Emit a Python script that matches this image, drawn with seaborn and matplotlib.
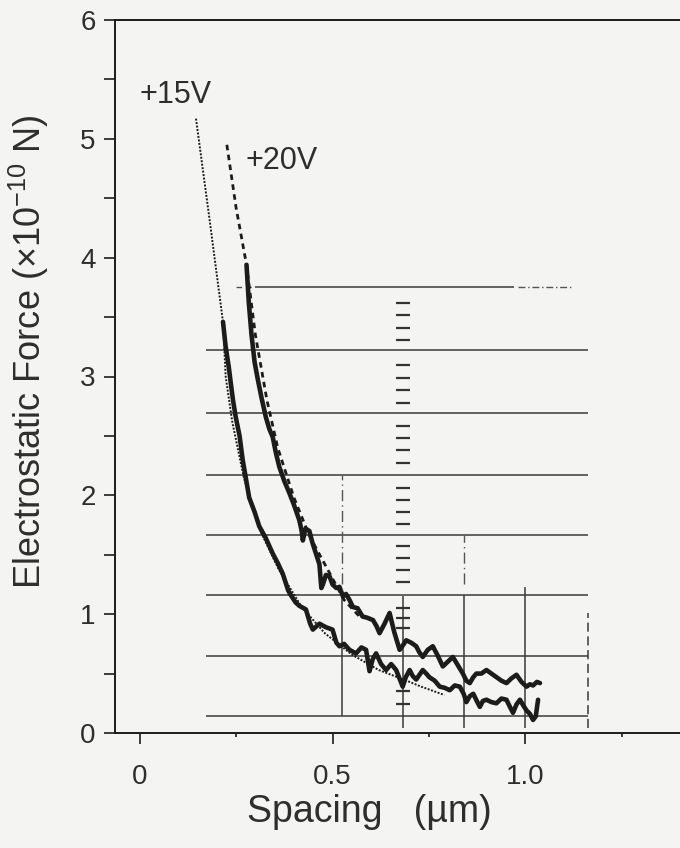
import numpy as np
import pandas as pd
import matplotlib
matplotlib.use("Agg")
import matplotlib.pyplot as plt
import seaborn as sns

# ---------------- data ----------------
x_15v = [0.216, 0.223, 0.231, 0.236, 0.242, 0.249, 0.259, 0.267, 0.275, 0.284,
         0.298, 0.310, 0.327, 0.345, 0.358, 0.371, 0.385, 0.392, 0.404, 0.414,
         0.431, 0.442, 0.449, 0.466, 0.483, 0.500, 0.510, 0.518, 0.530, 0.544,
         0.561, 0.575, 0.587, 0.596, 0.604, 0.613, 0.626, 0.639, 0.652, 0.665,
         0.682, 0.690, 0.700, 0.708, 0.717, 0.734, 0.743, 0.751, 0.765, 0.778,
         0.791, 0.804, 0.817, 0.830, 0.840, 0.847, 0.856, 0.865, 0.874, 0.882,
         0.890, 0.899, 0.912, 0.925, 0.938, 0.951, 0.960, 0.968, 0.977, 0.986,
         0.995, 1.003, 1.012, 1.020, 1.027, 1.033]
y_15v = [3.46, 3.25, 3.08, 2.95, 2.80, 2.66, 2.50, 2.30, 2.15, 1.98,
         1.86, 1.74, 1.64, 1.51, 1.43, 1.34, 1.20, 1.16, 1.10, 1.07,
         1.04, 0.92, 0.87, 0.92, 0.89, 0.87, 0.76, 0.73, 0.75, 0.70,
         0.67, 0.72, 0.70, 0.52, 0.62, 0.67, 0.58, 0.53, 0.58, 0.53,
         0.39, 0.47, 0.53, 0.48, 0.45, 0.53, 0.50, 0.47, 0.44, 0.39,
         0.38, 0.36, 0.40, 0.39, 0.33, 0.26, 0.31, 0.33, 0.27, 0.22,
         0.27, 0.28, 0.26, 0.25, 0.29, 0.28, 0.22, 0.17, 0.24, 0.28,
         0.23, 0.19, 0.16, 0.11, 0.14, 0.28]

x_20v = [0.277, 0.283, 0.290, 0.298, 0.306, 0.316, 0.327, 0.336, 0.345, 0.353,
         0.362, 0.375, 0.388, 0.400, 0.414, 0.420, 0.423, 0.430, 0.440, 0.448,
         0.457, 0.466, 0.471, 0.475, 0.483, 0.492, 0.500, 0.510, 0.518, 0.527,
         0.535, 0.544, 0.553, 0.565, 0.578, 0.590, 0.605, 0.614, 0.622, 0.635,
         0.648, 0.660, 0.674, 0.683, 0.691, 0.704, 0.717, 0.725, 0.734, 0.747,
         0.760, 0.773, 0.786, 0.799, 0.812, 0.825, 0.838, 0.847, 0.856, 0.865,
         0.873, 0.886, 0.899, 0.912, 0.925, 0.938, 0.951, 0.964, 0.977, 0.990,
         1.003, 1.012, 1.020, 1.030, 1.038]
y_20v = [3.94, 3.62, 3.35, 3.12, 2.98, 2.82, 2.66, 2.56, 2.49, 2.36,
         2.24, 2.12, 2.02, 1.92, 1.79, 1.70, 1.62, 1.72, 1.70, 1.60,
         1.51, 1.42, 1.22, 1.25, 1.33, 1.32, 1.25, 1.22, 1.23, 1.15,
         1.17, 1.12, 1.06, 1.05, 0.98, 0.97, 0.95, 0.90, 0.84, 0.92,
         1.01, 0.85, 0.70, 0.74, 0.78, 0.76, 0.73, 0.68, 0.64, 0.70,
         0.73, 0.65, 0.56, 0.60, 0.64, 0.57, 0.50, 0.44, 0.42, 0.47,
         0.50, 0.50, 0.53, 0.50, 0.47, 0.44, 0.42, 0.46, 0.49, 0.43,
         0.39, 0.41, 0.40, 0.43, 0.42]

# theoretical (fit) curves
x_fit15 = [0.146, 0.180, 0.216, 0.223, 0.240, 0.270, 0.310, 0.360, 0.420,
           0.480, 0.550, 0.620, 0.700, 0.730, 0.790]
y_fit15 = [5.17, 4.35, 3.46, 3.00, 2.62, 2.15, 1.72, 1.38, 1.06,
           0.84, 0.66, 0.53, 0.43, 0.39, 0.32]
x_fit20 = [0.226, 0.250, 0.277, 0.300, 0.330, 0.358, 0.400, 0.440, 0.470,
           0.500, 0.530, 0.570]
y_fit20 = [4.95, 4.42, 3.94, 3.35, 2.80, 2.40, 1.98, 1.66, 1.48,
           1.30, 1.12, 0.98]

series_labels = ["+15V", "+20V"]
label_x = [0.092, 0.367]
label_y = [5.37, 4.81]

# background ruling lines seen on the scanned page
rule_y = [3.75, 3.22, 2.69, 2.17, 1.67, 1.16, 0.65, 0.14]
rule_x_start = [0.30, 0.173, 0.173, 0.173, 0.173, 0.173, 0.173, 0.173]
rule_x_end = [0.97, 1.163, 1.163, 1.163, 1.163, 1.163, 1.163, 1.163]
vrule_x = [0.524, 0.683, 0.841, 1.000, 1.163]
vrule_lo = [0.14, 0.04, 0.04, 0.04, 0.04]
vrule_hi = [1.20, 1.15, 1.16, 1.23, 1.01]
vrule_style = ["-", "-", "-", "-", (0, (6, 3))]
dash_col_x = 0.683
dash_col_y = [3.62, 3.52, 3.41, 3.31, 3.10, 2.99, 2.89, 2.78, 2.58, 2.48,
              2.38, 2.27, 2.06, 1.96, 1.86, 1.76, 1.57, 1.47, 1.37, 1.27,
              1.05, 0.97, 0.88, 0.35, 0.24]

x_ticks = [0, 0.5, 1.0]
x_ticklabels = ["0", "0.5", "1.0"]
x_minor = [0.25, 0.75, 1.25]
y_ticks = [0, 1, 2, 3, 4, 5, 6]
y_minor = [0.5, 1.5, 2.5, 3.5, 4.5, 5.5]

# ---------------- styling ----------------
sns.set_theme(style="ticks")
plt.rcParams["font.family"] = ["Liberation Sans", "DejaVu Sans"]
plt.rcParams["mathtext.default"] = "regular"
INK = "#1c1c1c"
TXT = "#2e2e2e"
BG = "#f4f4f2"

fig = plt.figure(figsize=(6.8, 8.48), dpi=100, facecolor=BG)
ax = fig.add_axes([115 / 680, (848 - 733) / 848, (680 - 115) / 680, (733 - 20) / 848])
ax.set_facecolor(BG)

# ruling lines
for yv, xs, xe in zip(rule_y, rule_x_start, rule_x_end):
    ax.hlines(yv, xs, xe, color="#3a3a3a", lw=1.1, zorder=1)
ax.hlines(rule_y[0], 0.25, 0.29, color="#555", lw=1.0, linestyle=(0, (4, 3)), zorder=1)
ax.hlines(rule_y[0], 0.98, 1.12, color="#555", lw=1.0, linestyle=(0, (5, 2, 1, 2)), zorder=1)
for xv, lo, hi, ls in zip(vrule_x, vrule_lo, vrule_hi, vrule_style):
    ax.vlines(xv, lo, hi, color="#3a3a3a", lw=1.1, linestyle=ls, zorder=1)
ax.vlines(vrule_x[0], 1.25, 2.17, color="#555", lw=1.0, linestyle=(0, (8, 3, 1, 3)), zorder=1)
ax.vlines(vrule_x[2], 1.25, 1.67, color="#555", lw=1.0, linestyle=(0, (8, 3, 1, 3)), zorder=1)
ax.plot([dash_col_x] * len(dash_col_y), dash_col_y, linestyle="none", marker="_",
        markersize=10, mew=1.6, color="#333", zorder=1)

# fits
sns.lineplot(x=x_fit15, y=y_fit15, ax=ax, sort=False, estimator=None, color=INK,
             lw=1.4, linestyle=(0, (1, 0.8)), zorder=2)
sns.lineplot(x=x_fit20, y=y_fit20, ax=ax, sort=False, estimator=None, color=INK,
             lw=2.0, linestyle=(0, (2, 1.6)), zorder=2)

# measured curves
df = pd.concat([
    pd.DataFrame({"Spacing": x_15v, "Force": y_15v, "Bias": series_labels[0]}),
    pd.DataFrame({"Spacing": x_20v, "Force": y_20v, "Bias": series_labels[1]}),
])
sns.lineplot(data=df, x="Spacing", y="Force", hue="Bias", units="Bias",
             palette=[INK, INK], sort=False, estimator=None, lw=3.3,
             legend=False, ax=ax, zorder=3)

for t, tx, ty in zip(series_labels, label_x, label_y):
    ax.text(tx, ty, t, fontsize=22, color=TXT, ha="center", va="center")

# axes
ax.set_xlim(-0.064, 1.401)
ax.set_ylim(0, 6)
ax.set_xticks(x_ticks)
ax.set_xticklabels(x_ticklabels)
ax.set_xticks(x_minor, minor=True)
ax.set_yticks(y_ticks)
ax.set_yticks(y_minor, minor=True)
ax.tick_params(axis="both", which="major", direction="out", length=8, width=1.2,
               color=INK, labelsize=20, labelcolor=TXT)
ax.tick_params(axis="y", which="major", pad=6)
ax.tick_params(axis="x", which="major", pad=14)
ax.tick_params(axis="y", which="minor", direction="out", length=8, width=1.2, color=INK)
ax.tick_params(axis="x", which="minor", direction="out", length=3, width=1.2, color=INK)
for s in ["left", "bottom", "top"]:
    ax.spines[s].set_color(INK)
    ax.spines[s].set_linewidth(1.4)
ax.spines["right"].set_visible(False)

ax.set_xlabel("Spacing   (µm)", fontsize=27, color=TXT)
ax.xaxis.set_label_coords(0.451, -0.086)
ax.set_ylabel("Electrostatic Force (×10$^{-10}$ N)", fontsize=26, color=TXT)
ax.yaxis.set_label_coords(-0.113, 0.535)

fig.savefig("out.png", dpi=100, facecolor=BG)
